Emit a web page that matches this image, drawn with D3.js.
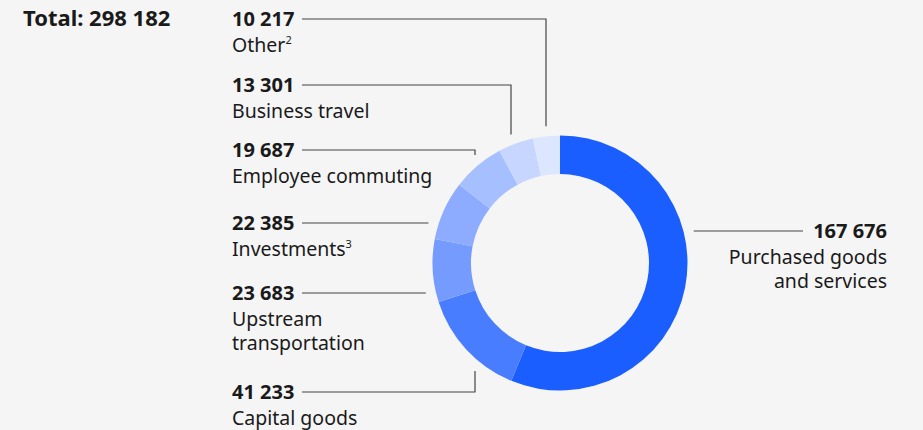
<!DOCTYPE html>
<html>
<head>
<meta charset="utf-8">
<script src="https://cdn.jsdelivr.net/npm/d3@7"></script>
<style>
  body { margin: 0; background: #f5f5f5; }
  svg { display: block; font-family: "Noto Sans", sans-serif; }
</style>
</head>
<body>
<div id="chart"></div>
<script>
// Data (clockwise from 12 o'clock)
var categories = ["Purchased goods and services", "Capital goods", "Upstream transportation", "Investments", "Employee commuting", "Business travel", "Other"];
var values = [167676, 41233, 23683, 22385, 19687, 13301, 10217];
var labelLines = [["Purchased goods", "and services"], ["Capital goods"], ["Upstream", "transportation"], ["Investments"], ["Employee commuting"], ["Business travel"], ["Other"]];
var footnotes = ["", "", "", "3", "", "", "2"];
var colors = ["#1b5eff", "#497dff", "#769bff", "#8dacff", "#a6bfff", "#c7d6ff", "#dde6ff"];
var totalLabel = "Total: 298 182";

// Label layout: value baseline y, elbow x (null = straight line to the ring)
var layout = [
  { side: "right", y: 238, elbowX: null },
  { side: "left", y: 399, elbowX: 475 },
  { side: "left", y: 300, elbowX: null },
  { side: "left", y: 230, elbowX: null },
  { side: "left", y: 157, elbowX: 475 },
  { side: "left", y: 92, elbowX: 511 },
  { side: "left", y: 26, elbowX: 546 }
];

var width = 923, height = 430;
var cx = 560, cy = 263, outerR = 127.5, innerR = 89, gap = 10;
var fmt = function(v) { return d3.format(",")(v).replace(/,/g, " "); };

var svg = d3.select("#chart").append("svg").attr("width", width).attr("height", height);
svg.append("rect").attr("width", width).attr("height", height).attr("fill", "#f5f5f5");

svg.append("text").attr("x", 23).attr("y", 26).attr("font-size", 22).attr("font-weight", 700)
  .attr("fill", "#1a1a1a").text(totalLabel);

var pie = d3.pie().sort(null).value(function(d) { return d; });
var arc = d3.arc().innerRadius(innerR).outerRadius(outerR);
var arcs = pie(values);

var g = svg.append("g").attr("transform", "translate(" + cx + "," + cy + ")");
g.selectAll("path").data(arcs).enter().append("path")
  .attr("d", arc)
  .attr("fill", function(d, i) { return colors[i]; });

var ringR = outerR + gap;
var lines = svg.append("g").attr("fill", "none").attr("stroke", "#444").attr("stroke-width", 1.2);

categories.forEach(function(c, i) {
  var L = layout[i];
  var lineY = L.y - 7;
  var pts;
  if (L.side === "right") {
    var xs = cx + Math.sqrt(ringR * ringR - (lineY - cy) * (lineY - cy));
    pts = [[xs, lineY], [803, lineY]];
  } else if (L.elbowX == null) {
    var xe = cx - Math.sqrt(ringR * ringR - (lineY - cy) * (lineY - cy));
    pts = [[302, lineY], [xe, lineY]];
  } else {
    var dy = Math.sqrt(ringR * ringR - (L.elbowX - cx) * (L.elbowX - cx));
    var ye = lineY < cy ? cy - dy : cy + dy;
    pts = [[302, lineY], [L.elbowX, lineY], [L.elbowX, ye]];
  }
  lines.append("path").attr("d", d3.line()(pts));

  var anchor = L.side === "right" ? "end" : "start";
  var tx = L.side === "right" ? 887 : 232;
  svg.append("text").attr("x", tx).attr("y", L.y).attr("text-anchor", anchor)
    .attr("font-size", 20).attr("font-weight", 700).attr("fill", "#1a1a1a").text(fmt(values[i]));
  // category name, one text element with a tspan per line
  var t = svg.append("text").attr("x", tx).attr("y", L.y + 26).attr("text-anchor", anchor)
    .attr("font-size", 19.5).attr("fill", "#1a1a1a");
  labelLines[i].forEach(function(line, j) {
    t.append("tspan").attr("x", tx).attr("dy", j === 0 ? 0 : 24).text(line);
  });
  if (footnotes[i]) {
    t.append("tspan").attr("font-size", 11).attr("dy", -8).text(footnotes[i]);
  }
});
</script>
</body>
</html>
